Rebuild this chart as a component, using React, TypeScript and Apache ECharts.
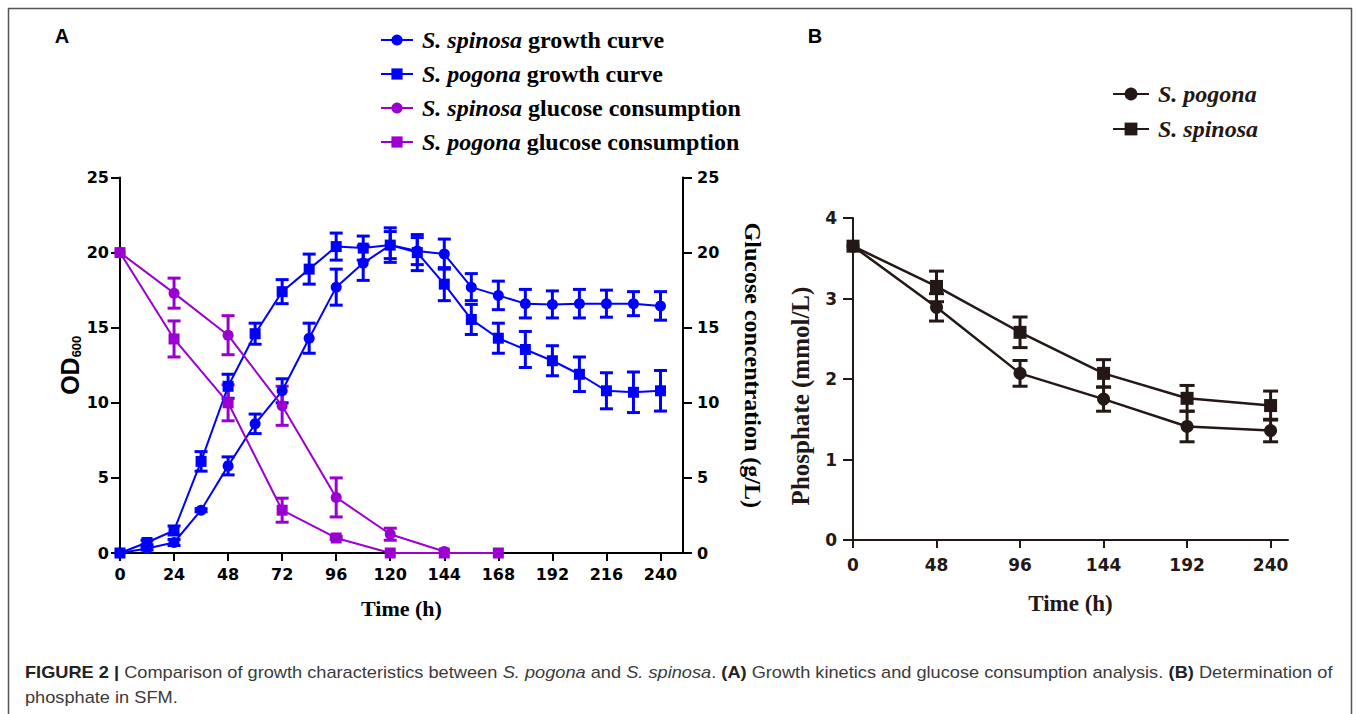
import React, { useEffect, useRef } from "react";
import * as echarts from "echarts";

// ---------- Panel A data ----------
const timesA = [0, 12, 24, 36, 48, 60, 72, 84, 96, 108, 120, 132, 144, 156, 168, 180, 192, 204, 216, 228, 240];
const spinosaGrowth = [0, 0.3, 0.7, 2.85, 5.8, 8.6, 10.8, 14.3, 17.7, 19.3, 20.5, 20.1, 19.9, 17.7, 17.15, 16.6, 16.55, 16.6, 16.6, 16.6, 16.45];
const spinosaGrowthErr = [0, 0.1, 0.2, 0.1, 0.6, 0.65, 0.8, 1.0, 1.2, 1.15, 0.9, 0.9, 1.0, 0.9, 0.95, 0.95, 0.9, 0.95, 0.9, 0.8, 0.95];
const pogonaGrowth = [0, 0.7, 1.5, 6.1, 11.1, 14.6, 17.4, 18.9, 20.4, 20.3, 20.5, 20.0, 17.9, 15.55, 14.3, 13.55, 12.8, 11.9, 10.8, 10.7, 10.8];
const pogonaGrowthErr = [0, 0.15, 0.3, 0.65, 0.8, 0.7, 0.8, 1.0, 0.9, 0.8, 1.15, 1.2, 1.1, 1.0, 1.0, 1.2, 1.0, 1.15, 1.2, 1.35, 1.35];

const timesGlucose = [0, 24, 48, 72, 96, 120, 144, 168];
const spinosaGlucose = [20, 17.3, 14.5, 9.8, 3.7, 1.25, 0.1];
const spinosaGlucoseErr = [0, 1.0, 1.3, 1.3, 1.3, 0.4, 0];
const pogonaGlucose = [20, 14.25, 10.0, 2.85, 1.0, 0, 0, 0];
const pogonaGlucoseErr = [0, 1.2, 1.2, 0.8, 0.1, 0, 0, 0];

const xTicksA = [0, 24, 48, 72, 96, 120, 144, 168, 192, 216, 240];

// ---------- Panel B data ----------
const timesB = [0, 48, 96, 144, 192, 240];
const pogonaPhosphate = [3.65, 2.89, 2.07, 1.75, 1.41, 1.36];
const pogonaPhosphateErr = [0, 0.17, 0.16, 0.15, 0.19, 0.14];
const spinosaPhosphate = [3.65, 3.15, 2.58, 2.07, 1.76, 1.67];
const spinosaPhosphateErr = [0, 0.19, 0.19, 0.17, 0.16, 0.18];

const namesA = [
  "S. spinosa growth curve",
  "S. pogona growth curve",
  "S. spinosa glucose consumption",
  "S. pogona glucose consumption",
];
const namesB = ["S. pogona", "S. spinosa"];

const BLUE = "#0000ff";
const PURPLE = "#9a00d0";
const DARK = "#231815";
const SERIF = "'Liberation Serif', 'Times New Roman', serif";
const SANS = "'Liberation Sans', Arial, sans-serif";
const TICKFONT = "'DejaVu Sans', sans-serif";

const pairs = (xs: number[], ys: number[]) => ys.map((y, i) => [xs[i], y]);
const triples = (xs: number[], ys: number[], es: number[]) => ys.map((y, i) => [xs[i], y, es[i]]);

const errorBar = (color: string, lw: number, hw: number) => (params: any, api: any) => {
  const x = api.value(0);
  const y = api.value(1);
  const e = api.value(2);
  if (!e) return { type: "group", children: [] };
  const hi = api.coord([x, y + e]);
  const lo = api.coord([x, y - e]);
  const st = { stroke: color, lineWidth: lw };
  return {
    type: "group",
    children: [
      { type: "line", shape: { x1: hi[0], y1: hi[1], x2: lo[0], y2: lo[1] }, style: st },
      { type: "line", shape: { x1: hi[0] - hw, y1: hi[1], x2: hi[0] + hw, y2: hi[1] }, style: st },
      { type: "line", shape: { x1: lo[0] - hw, y1: lo[1], x2: lo[0] + hw, y2: lo[1] }, style: st },
    ],
  };
};

const lineSeries = (name: string, xs: number[], ys: number[], color: string, symbol: string, size: number, gi: number, yi: number, lw: number) => ({
  name,
  type: "line",
  xAxisIndex: gi,
  yAxisIndex: yi,
  data: pairs(xs, ys),
  symbol,
  symbolSize: size,
  showSymbol: true,
  color,
  itemStyle: { color },
  lineStyle: { color, width: lw },
  clip: false,
  z: 3,
});

const errSeries = (xs: number[], ys: number[], es: number[], color: string, gi: number, yi: number, lw: number, hw: number) => ({
  type: "custom",
  xAxisIndex: gi,
  yAxisIndex: yi,
  data: triples(xs, ys, es),
  encode: { x: 0, y: 1 },
  renderItem: errorBar(color, lw, hw),
  clip: false,
  z: 3,
  silent: true,
});

const axisLineStyle = (color: string, w: number) => ({ show: true, onZero: false, lineStyle: { color, width: w } });

const legendFormatter = (name: string) => {
  const parts = name.split(" ");
  const species = parts.slice(0, 2).join(" ");
  const rest = parts.slice(2).join(" ");
  return rest ? `{i|${species}}{n| ${rest}}` : `{i|${species}}`;
};

function buildOption(): any {
  return {
    animation: false,
    backgroundColor: "#ffffff",
    grid: [
      { left: 120, top: 177.5, width: 563, height: 375.5, containLabel: false },
      { left: 853, top: 218, width: 435, height: 322, containLabel: false },
    ],
    xAxis: [
      {
        type: "value",
        gridIndex: 0,
        min: 0,
        max: 250,
        axisLine: axisLineStyle("#000", 2),
        axisTick: { show: true, length: 8, lineStyle: { color: "#000", width: 2 }, customValues: xTicksA },
        axisLabel: { customValues: xTicksA, fontFamily: TICKFONT, fontWeight: "bold", fontSize: 16, color: "#000", margin: 13 },
        splitLine: { show: false },
        name: "Time (h)",
        nameLocation: "middle",
        nameGap: 44,
        nameTextStyle: { fontFamily: SERIF, fontWeight: "bold", fontSize: 22, color: "#000" },
      },
      {
        type: "value",
        gridIndex: 1,
        min: 0,
        max: 250,
        axisLine: axisLineStyle(DARK, 2),
        axisTick: { show: true, length: 8, lineStyle: { color: DARK, width: 2 }, customValues: timesB },
        axisLabel: { customValues: timesB, fontFamily: TICKFONT, fontWeight: "bold", fontSize: 17, color: DARK, margin: 16 },
        splitLine: { show: false },
        name: "Time (h)",
        nameLocation: "middle",
        nameGap: 52,
        nameTextStyle: { fontFamily: SERIF, fontWeight: "bold", fontSize: 23, color: DARK },
      },
    ],
    yAxis: [
      {
        type: "value",
        gridIndex: 0,
        min: 0,
        max: 25,
        interval: 5,
        axisLine: axisLineStyle("#000", 2),
        axisTick: { show: true, length: 9, lineStyle: { color: "#000", width: 2 } },
        axisLabel: { fontFamily: TICKFONT, fontWeight: "bold", fontSize: 16, color: "#000", margin: 11 },
        splitLine: { show: false },
        name: "{a|OD}{b|600}",
        nameLocation: "middle",
        nameRotate: 90,
        nameGap: 28,
        nameTextStyle: {
          rich: {
            a: { fontFamily: SANS, fontWeight: "bold", fontSize: 25, color: "#000" },
            b: { fontFamily: SANS, fontWeight: "bold", fontSize: 13, color: "#000", verticalAlign: "bottom", lineHeight: 22 },
          },
        },
      },
      {
        type: "value",
        gridIndex: 0,
        position: "right",
        min: 0,
        max: 25,
        interval: 5,
        axisLine: axisLineStyle("#000", 2),
        axisTick: { show: true, length: 9, lineStyle: { color: "#000", width: 2 } },
        axisLabel: { fontFamily: TICKFONT, fontWeight: "bold", fontSize: 16, color: "#000", margin: 14 },
        splitLine: { show: false },
        name: "Glucose concentration (g/L)",
        nameLocation: "middle",
        nameRotate: -90,
        nameGap: 58,
        nameTextStyle: { fontFamily: SERIF, fontWeight: "bold", fontSize: 24, color: "#000" },
      },
      {
        type: "value",
        gridIndex: 1,
        min: 0,
        max: 4,
        interval: 1,
        axisLine: axisLineStyle(DARK, 2),
        axisTick: { show: true, length: 10, lineStyle: { color: DARK, width: 2 } },
        axisLabel: { fontFamily: TICKFONT, fontWeight: "bold", fontSize: 17, color: DARK, margin: 16 },
        splitLine: { show: false },
        name: "Phosphate (mmol/L)",
        nameLocation: "middle",
        nameRotate: 90,
        nameGap: 40,
        nameTextStyle: { fontFamily: SERIF, fontWeight: "bold", fontSize: 25, color: DARK, padding: [0, 34, 0, 0] },
      },
    ],
    legend: [
      {
        data: namesA,
        orient: "vertical",
        left: 375,
        top: 23,
        itemWidth: 32,
        itemHeight: 14,
        itemGap: 10,
        selectedMode: false,
        formatter: legendFormatter,
        textStyle: {
          color: "#000",
          rich: {
            i: { fontFamily: SERIF, fontWeight: "bold", fontStyle: "italic", fontSize: 24, color: "#000", padding: [0, 0, 0, 4], lineHeight: 24 },
            n: { fontFamily: SERIF, fontWeight: "bold", fontSize: 24, color: "#000", lineHeight: 24 },
          },
        },
      },
      {
        data: namesB,
        orient: "vertical",
        left: 1107,
        top: 77,
        itemWidth: 36,
        itemHeight: 16,
        itemGap: 11,
        selectedMode: false,
        formatter: legendFormatter,
        textStyle: {
          color: DARK,
          rich: {
            i: { fontFamily: SERIF, fontWeight: "bold", fontStyle: "italic", fontSize: 24, color: DARK, padding: [0, 0, 0, 4], lineHeight: 26 },
          },
        },
      },
    ],
    series: [
      lineSeries(namesA[0], timesA, spinosaGrowth, BLUE, "circle", 11, 0, 0, 2),
      errSeries(timesA, spinosaGrowth, spinosaGrowthErr, BLUE, 0, 0, 3, 6.5),
      lineSeries(namesA[1], timesA, pogonaGrowth, BLUE, "rect", 11, 0, 0, 2),
      errSeries(timesA, pogonaGrowth, pogonaGrowthErr, BLUE, 0, 0, 3, 6.5),
      lineSeries(namesA[2], timesGlucose, spinosaGlucose, PURPLE, "circle", 11, 0, 1, 2),
      errSeries(timesGlucose, spinosaGlucose, spinosaGlucoseErr, PURPLE, 0, 1, 3, 6.5),
      lineSeries(namesA[3], timesGlucose, pogonaGlucose, PURPLE, "rect", 11, 0, 1, 2),
      errSeries(timesGlucose, pogonaGlucose, pogonaGlucoseErr, PURPLE, 0, 1, 3, 6.5),
      lineSeries(namesB[0], timesB, pogonaPhosphate, DARK, "circle", 13, 1, 2, 2.5),
      errSeries(timesB, pogonaPhosphate, pogonaPhosphateErr, DARK, 1, 2, 3, 7.5),
      lineSeries(namesB[1], timesB, spinosaPhosphate, DARK, "rect", 13, 1, 2, 2.5),
      errSeries(timesB, spinosaPhosphate, spinosaPhosphateErr, DARK, 1, 2, 3, 7.5),
    ],
    graphic: [
      {
        type: "rect",
        shape: { x: 8.5, y: 8.5, width: 1343, height: 740 },
        style: { fill: "none", stroke: "#555", lineWidth: 1.5 },
        silent: true,
      },
      { type: "text", x: 62, y: 36, style: { text: "A", fontFamily: SANS, fontWeight: "bold", fontSize: 20, fill: "#000", align: "center", verticalAlign: "middle" } },
      { type: "text", x: 815, y: 36, style: { text: "B", fontFamily: SANS, fontWeight: "bold", fontSize: 20, fill: "#000", align: "center", verticalAlign: "middle" } },
      {
        type: "text",
        x: 25,
        y: 672,
        scaleX: 1.138,
        style: {
          text:
            "{b|FIGURE 2 |}{r| Comparison of growth characteristics between }{i|S. pogona}{r| and }{i|S. spinosa}{r|. }{b|(A)}{r| Growth kinetics and glucose consumption analysis. }{b|(B)}{r| Determination of}",
          verticalAlign: "middle",
          align: "left",
          rich: {
            b: { fontFamily: SANS, fontWeight: "bold", fontSize: 16, fill: "#222" },
            r: { fontFamily: SANS, fontSize: 16, fill: "#3a3a3a" },
            i: { fontFamily: SANS, fontStyle: "italic", fontSize: 16, fill: "#3a3a3a" },
          },
        },
      },
      {
        type: "text",
        x: 25,
        y: 697,
        scaleX: 1.138,
        style: { text: "phosphate in SFM.", fontFamily: SANS, fontSize: 16, fill: "#3a3a3a", verticalAlign: "middle", align: "left" },
      },
    ],
  };
}

export default function App() {
  const ref = useRef<HTMLDivElement>(null);
  useEffect(() => {
    if (!ref.current) return;
    const chart = echarts.init(ref.current, null, { renderer: "svg", width: 1357, height: 714 });
    chart.setOption(buildOption());
    return () => chart.dispose();
  }, []);
  return <div ref={ref} style={{ position: "absolute", left: 0, top: 0, width: 1357, height: 714 }} />;
}
